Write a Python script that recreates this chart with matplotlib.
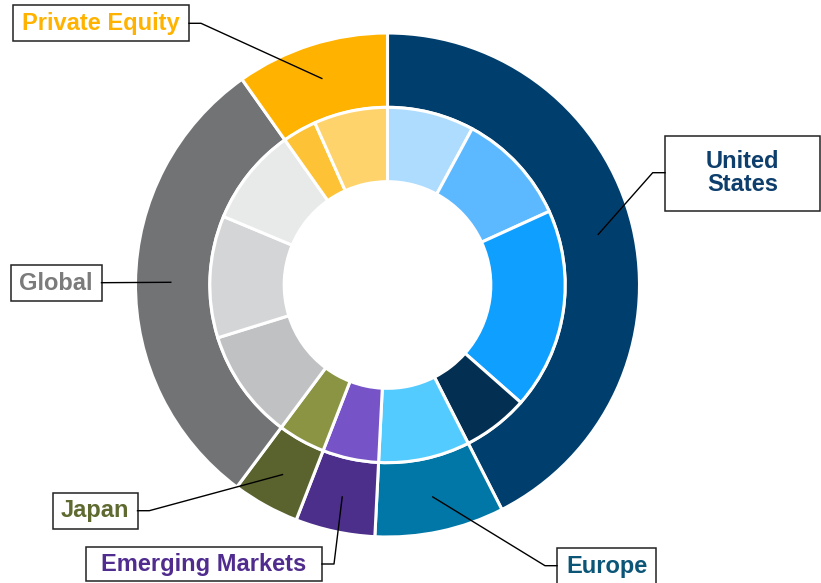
import numpy as np
import matplotlib
matplotlib.use("Agg")
import matplotlib.pyplot as plt
from matplotlib.patches import Rectangle

# Données : anneau extérieur = régions, anneau intérieur = sous-segments
outer_labels = ["United\nStates", "Europe", "Emerging Markets", "Japan", "Global", "Private Equity"]
inner_values = [
    [7.9, 10.3, 18.3, 6.0],   # United States
    [8.3],                    # Europe
    [5.1],                    # Emerging Markets
    [4.3],                    # Japan
    [10.0, 11.1, 8.9],        # Global
    [3.1, 6.7],               # Private Equity
]
outer_values = [sum(v) for v in inner_values]
inner_flat = [x for grp in inner_values for x in grp]

outer_colors = ["#003f6d", "#0077a6", "#4c2f8a", "#5a632e", "#727375", "#ffb300"]
inner_colors = ["#addcfe", "#5db9ff", "#0f9fff", "#032f52",
                "#54cbff",
                "#7653c6",
                "#8a9443",
                "#c0c1c3", "#d4d5d7", "#e8e9e9",
                "#fdc235", "#ffd36b"]
text_colors = ["#0d3e6c", "#0b5577", "#502c8e", "#5e6a30", "#7b7b7b", "#ffb300"]

# Boîtes d'étiquettes (pixels : x0, y0, x1, y1) et coude de la ligne de rappel
label_boxes = [(665, 135.5, 820, 211), (557, 548, 656, 592), (86, 547, 322, 581),
               (52.5, 493, 137.5, 528.5), (11, 265, 101.5, 300.5), (13, 5.5, 189, 41)]
text_pos = [(742.5, 173), (606.5, 566), (204, 564), (95, 511), (56, 283), (101, 23.5)]
leader_start = [(665, 172.7), (557, 565.7), (322, 564), (137.5, 510.7), (101.5, 282.7), (189, 23.3)]
leader_elbow = [(652.7, 172.7), (545, 565.7), (334, 564), (149.3, 510.7), (101.5, 282.7), (201, 23.3)]

W, H = 821, 583
CX, CY, R = 387.5, 285, 252


def px(x, y):
    return ((x - CX) / R, (CY - y) / R)


fig = plt.figure(figsize=(W / 100, H / 100), dpi=100)
ax = fig.add_axes([0, 0, 1, 1])

ax.pie(outer_values, radius=1.0, colors=outer_colors, startangle=90, counterclock=False,
       wedgeprops=dict(width=0.295, edgecolor="white", linewidth=2.2))
ax.pie(inner_flat, radius=0.705, colors=inner_colors, startangle=90, counterclock=False,
       wedgeprops=dict(width=0.295, edgecolor="white", linewidth=2.2))

# angle médian de chaque segment extérieur
total = sum(outer_values)
cum = np.cumsum(outer_values)
mid_angles = 90 - 360 * (cum - np.array(outer_values) / 2) / total

for i, lab in enumerate(outer_labels):
    bx0, by0, bx1, by1 = label_boxes[i]
    ax.add_patch(Rectangle(px(bx0, by1), (bx1 - bx0) / R, (by1 - by0) / R,
                           facecolor="white", edgecolor="#222222", linewidth=1.1, zorder=3))
    ax.text(*px(*text_pos[i]), lab, ha="center", va="center", fontsize=17,
            fontweight="bold", color=text_colors[i], family="Liberation Sans",
            linespacing=1.05, zorder=4)
    th = np.deg2rad(mid_angles[i])
    tx, ty = 0.86 * np.cos(th), 0.86 * np.sin(th)
    sx, sy = px(*leader_start[i])
    ex, ey = px(*leader_elbow[i])
    ax.plot([sx, ex, tx], [sy, ey, ty], color="black", linewidth=1.0, zorder=5)

x0, y0 = px(0, H)
x1, y1 = px(W, 0)
ax.set_xlim(x0, x1)
ax.set_ylim(y0, y1)
ax.set_aspect("auto")
ax.axis("off")

fig.savefig("out.png", dpi=100)
